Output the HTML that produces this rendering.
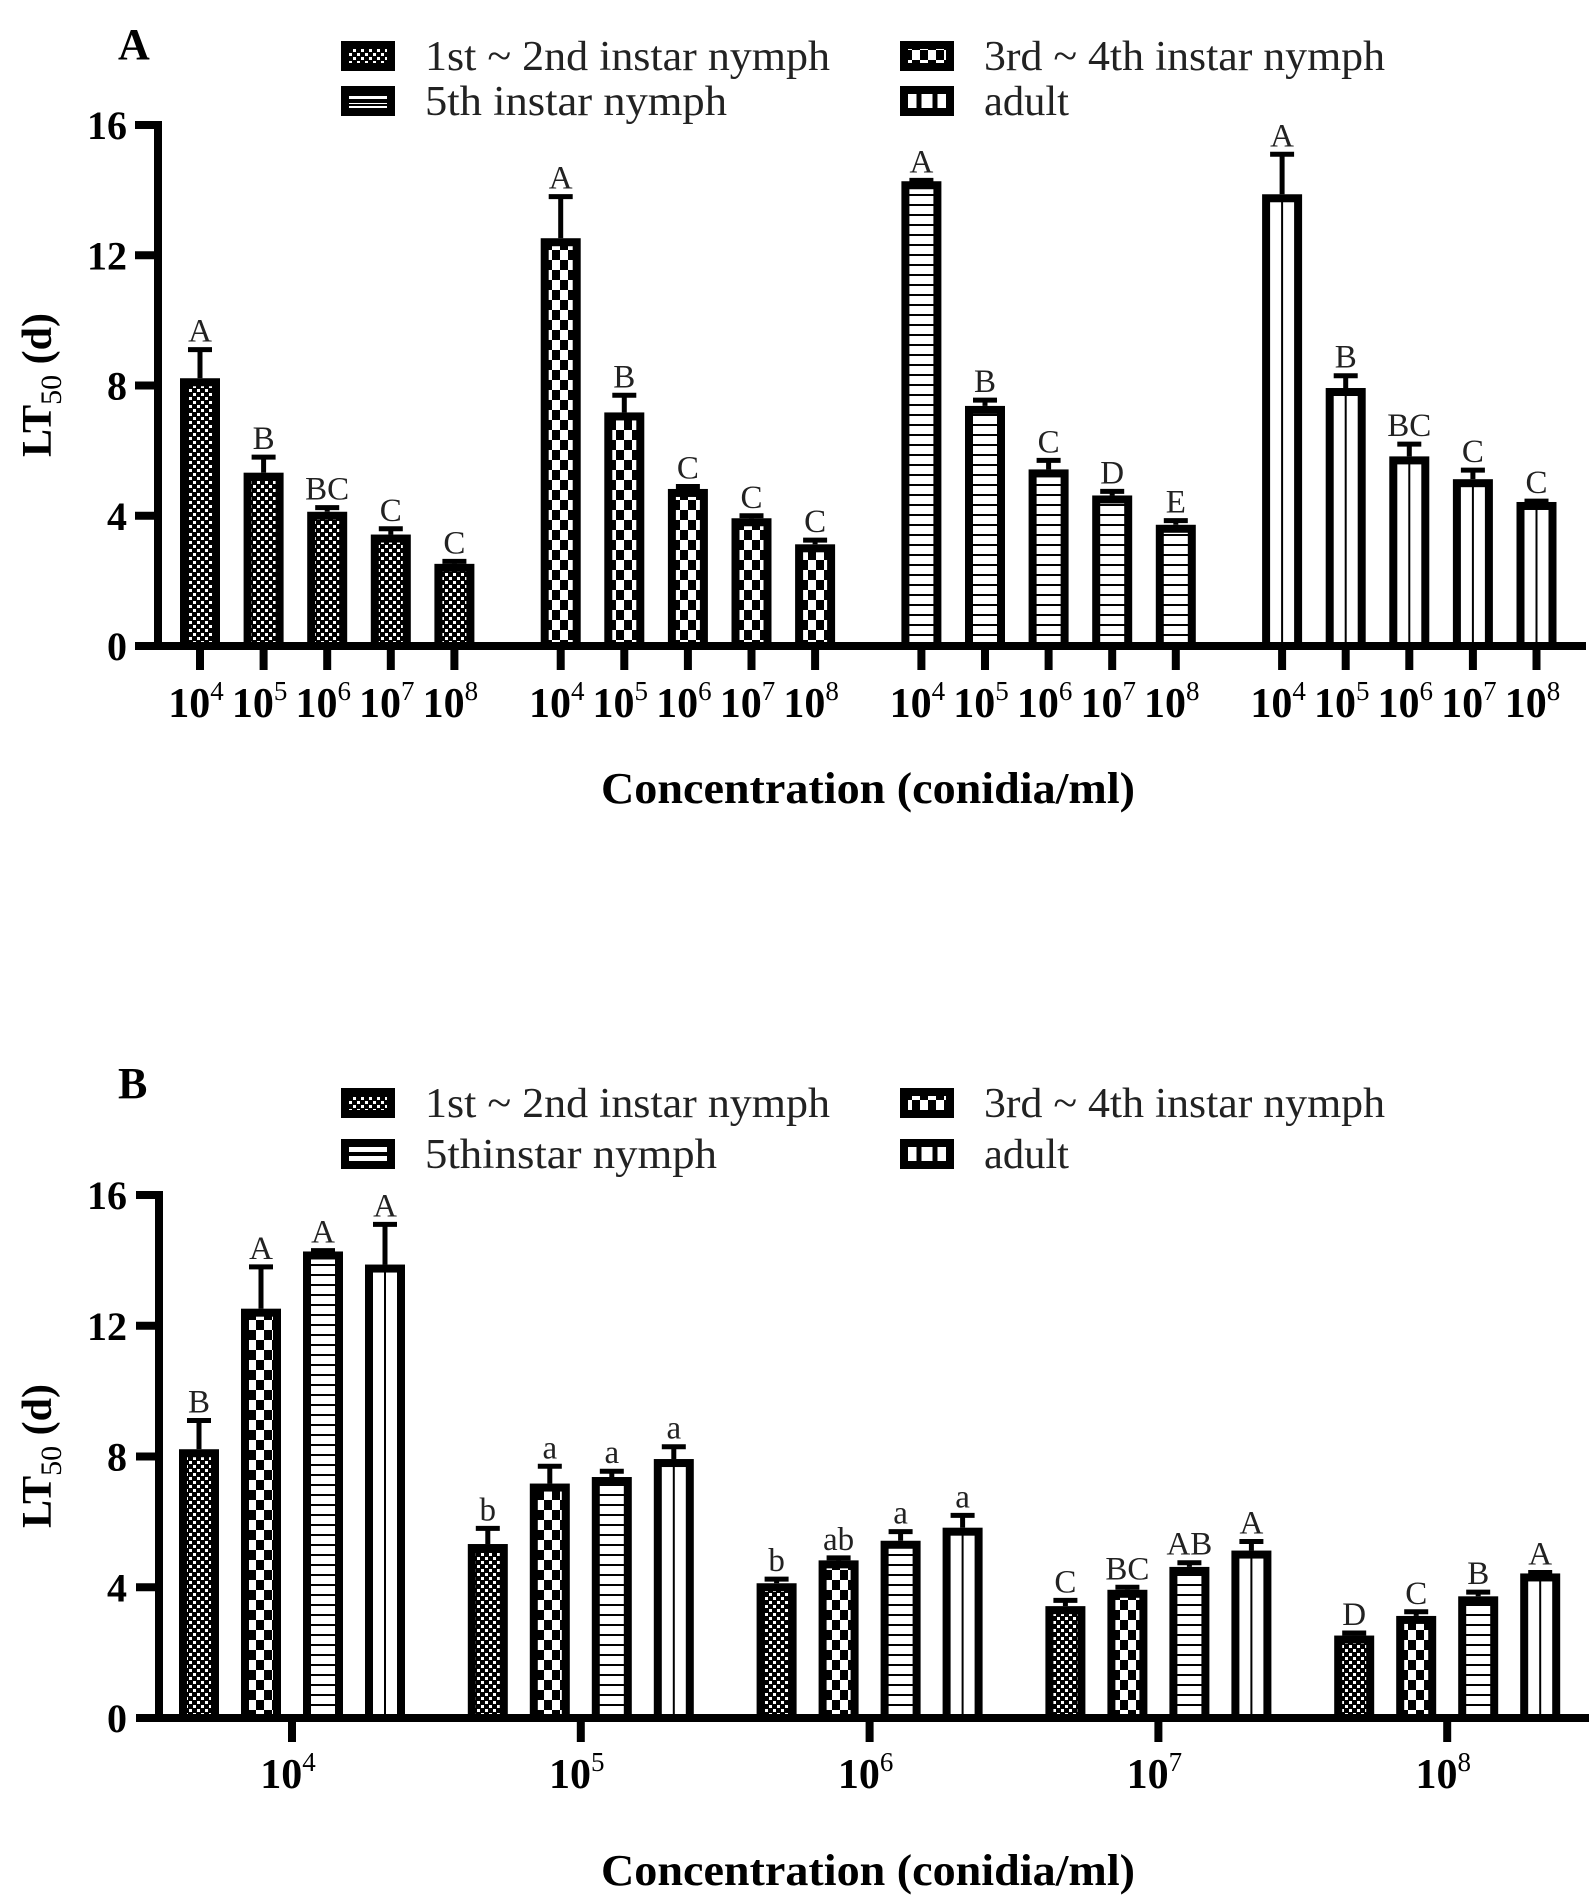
<!DOCTYPE html>
<html><head><meta charset="utf-8">
<style>
html,body{margin:0;padding:0;background:#fff;}
svg{display:block;font-family:"Liberation Serif",serif;}
</style></head>
<body>
<svg id="chart" width="1593" height="1899" viewBox="0 0 1593 1899" xmlns="http://www.w3.org/2000/svg">
<defs>
  <pattern id="p0" patternUnits="userSpaceOnUse" width="8" height="8">
    <rect width="8" height="8" fill="#000"/>
    <rect x="1" y="1" width="3" height="3" fill="#fff"/>
    <rect x="5" y="5" width="3" height="3" fill="#fff"/>
  </pattern>
  <pattern id="p1" patternUnits="userSpaceOnUse" width="16" height="20">
    <rect width="16" height="20" fill="#fff"/>
    <rect x="0" y="0" width="8" height="10" fill="#000"/>
    <rect x="8" y="10" width="8" height="10" fill="#000"/>
  </pattern>
  <pattern id="p2" patternUnits="userSpaceOnUse" width="10" height="10">
    <rect width="10" height="10" fill="#fff"/>
    <rect x="0" y="4" width="10" height="2" fill="#000"/>
  </pattern>
</defs>
<g id="root"></g>
</svg>
<script>
// ---- data ----
const stages = ["1st ~ 2nd instar nymph", "3rd ~ 4th instar nymph", "5th instar nymph", "adult"];
const stagesB = ["1st ~ 2nd instar nymph", "3rd ~ 4th instar nymph", "5thinstar nymph", "adult"];
const concentrations = ["4", "5", "6", "7", "8"];
const lt50Stage1 = [8.1, 5.2, 4.0, 3.3, 2.4];
const lt50Stage2 = [12.4, 7.05, 4.7, 3.8, 3.0];
const lt50Stage3 = [14.15, 7.25, 5.3, 4.5, 3.6];
const lt50Adult = [13.75, 7.8, 5.7, 5.0, 4.3];
const errTopStage1 = [9.1, 5.8, 4.25, 3.6, 2.6];
const errTopStage2 = [13.8, 7.7, 4.9, 4.0, 3.25];
const errTopStage3 = [14.3, 7.55, 5.7, 4.75, 3.85];
const errTopAdult = [15.1, 8.3, 6.2, 5.4, 4.45];
const lettersA1 = ["A","B","BC","C","C"];
const lettersA2 = ["A","B","C","C","C"];
const lettersA3 = ["A","B","C","D","E"];
const lettersA4 = ["A","B","BC","C","C"];
const lettersB1 = ["B","A","A","A"];
const lettersB2 = ["b","a","a","a"];
const lettersB3 = ["b","ab","a","a"];
const lettersB4 = ["C","BC","AB","A"];
const lettersB5 = ["D","C","B","A"];
const yTicks = [0, 4, 8, 12, 16];

const values = [lt50Stage1, lt50Stage2, lt50Stage3, lt50Adult];
const errs = [errTopStage1, errTopStage2, errTopStage3, errTopAdult];
const lettersA = [lettersA1, lettersA2, lettersA3, lettersA4];
const lettersB = [lettersB1, lettersB2, lettersB3, lettersB4, lettersB5];

const NS = "http://www.w3.org/2000/svg";
const root = document.getElementById("root");
function mk(tag, attrs, parent) {
  const e = document.createElementNS(NS, tag);
  for (const k in attrs) e.setAttribute(k, attrs[k]);
  (parent || root).appendChild(e);
  return e;
}
const fills = ["url(#p0)", "url(#p1)", "url(#p2)", "#fff"];

function drawBar(g, s, cx, y0, yv, yerr, letter, panel) {
  const x = cx - 16, top = yv;
  if (s === 3) {
    const r = mk("rect", {x: x, y: top, width: 32, height: y0 - top, fill: "#fff"}, g);
    
    
    const l = mk("line", {x1: cx, y1: top, x2: cx, y2: y0, stroke: "#000", "stroke-width": 2}, g);
    
    
    const o = mk("rect", {x: x, y: top, width: 32, height: y0 - top, fill: "none", stroke: "#000", "stroke-width": 8}, g);
    
    
  } else {
    const r = mk("rect", {x: x, y: top, width: 32, height: y0 - top, fill: fills[s], stroke: "#000", "stroke-width": 8}, g);
    
    
  }
  const el = mk("line", {x1: cx, y1: top - 4, x2: cx, y2: yerr, stroke: "#000", "stroke-width": 5}, g);
  
  
  const cap = mk("line", {x1: cx - 12, y1: yerr, x2: cx + 12, y2: yerr, stroke: "#000", "stroke-width": 5}, g);
  
  
  const t = mk("text", {x: cx, y: yerr - 8, "text-anchor": "middle", "font-size": 33, fill: "#222"}, g);
  t.textContent = letter;
  
  
}

function drawAxes(g, axX, yTop, y0, xEnd, yScale) {
  const ax = mk("line", {x1: axX, y1: yTop - 4, x2: axX, y2: y0 + 4, stroke: "#000", "stroke-width": 8}, g);
  
  
  const xa = mk("line", {x1: axX - 23, y1: y0, x2: xEnd, y2: y0, stroke: "#000", "stroke-width": 8}, g);
  
  
  yTicks.forEach(v => {
    const y = yScale(v);
    if (v !== 0) {
      const tk = mk("line", {x1: axX - 23, y1: y, x2: axX, y2: y, stroke: "#000", "stroke-width": 8}, g);
      
      
    }
    const t = mk("text", {x: 127, y: y + 14, "text-anchor": "end", "font-size": 40, "font-weight": "bold"}, g);
    t.textContent = v;
    
    
  });
}

function xTickLabel(g, cx, y, exp) {
  const t = mk("text", {x: cx - 4, y: y, "text-anchor": "middle", "font-size": 42, "font-weight": "bold"}, g);
  
  
  const a = document.createElementNS(NS, "tspan"); a.textContent = "10"; t.appendChild(a);
  const b = document.createElementNS(NS, "tspan");
  b.setAttribute("dy", "-17"); b.setAttribute("font-size", "27"); b.setAttribute("font-weight", "normal");
  b.textContent = exp; t.appendChild(b);
}

function legend(g, top1, top2, names, widths) {
  const boxes = [[341, top1], [900, top1], [341, top2], [900, top2]];
  [0, 1, 2, 3].forEach(i => {
    const [bx, by] = boxes[i];
    const item = mk("g", {}, g);
    
    
    mk("rect", {x: bx + 4, y: by + 4, width: 46, height: 22, fill: i === 3 ? "#fff" : fills[i], stroke: "#000", "stroke-width": 8}, item);
    if (i === 3) {
      mk("line", {x1: bx + 19, y1: by + 4, x2: bx + 19, y2: by + 26, stroke: "#000", "stroke-width": 5}, item);
      mk("line", {x1: bx + 35, y1: by + 4, x2: bx + 35, y2: by + 26, stroke: "#000", "stroke-width": 5}, item);
    }
    if (i === 2) {
      mk("rect", {x: bx + 4, y: by + 13, width: 46, height: 4, fill: "#000"}, item);
    }
    const t = mk("text", {x: bx + 84, y: by + 29, "font-size": 42, fill: "#222", textLength: widths[i], lengthAdjust: "spacingAndGlyphs"}, item);
    t.textContent = names[i];
  });
}

function titles(g, panelLetter, lx, ly, yTitleCy, xTitleY) {
  const p = mk("text", {x: lx, y: ly, "font-size": 44, "font-weight": "bold"}, g);
  p.textContent = panelLetter;
  
  
  const yt = mk("text", {x: 0, y: 0, "text-anchor": "middle", "font-size": 42, "font-weight": "bold",
    transform: "translate(51," + yTitleCy + ") rotate(-90)"}, g);
  
  
  const a = document.createElementNS(NS, "tspan"); a.textContent = "LT"; yt.appendChild(a);
  const b = document.createElementNS(NS, "tspan"); b.setAttribute("dy", "10"); b.setAttribute("font-size", "30"); b.setAttribute("font-weight", "normal"); b.textContent = "50"; yt.appendChild(b);
  const c = document.createElementNS(NS, "tspan"); c.setAttribute("dy", "-10"); c.textContent = " (d)"; yt.appendChild(c);
  const xt = mk("text", {x: 868, y: xTitleY, "text-anchor": "middle", "font-size": 44, "font-weight": "bold", textLength: 534, lengthAdjust: "spacingAndGlyphs"}, g);
  xt.textContent = "Concentration (conidia/ml)";
  
  
}

// ---- Panel A ----
(function () {
  const g = mk("g", {});
  
  
  const y0 = 646, y16 = 125;
  const yS = v => y0 - (y0 - y16) * v / 16;
  const xS = (s, c) => 200 + s * 360.7 + c * 63.6;
  values.forEach((ser, s) => ser.forEach((v, c) => {
    drawBar(g, s, xS(s, c), y0, yS(v), yS(errs[s][c]), lettersA[s][c], "a");
  }));
  drawAxes(g, 158, y16, y0, 1586, yS);
  values.forEach((ser, s) => concentrations.forEach((e, c) => {
    const cx = xS(s, c);
    const tk = mk("line", {x1: cx, y1: y0, x2: cx, y2: 670, stroke: "#000", "stroke-width": 8}, g);
    
    
    xTickLabel(g, cx, 717, e);
  }));
  legend(g, 41, 86, stages, [405, 401, 302, 85]);
  titles(g, "A", 118, 59, 385, 803);
})();

// ---- Panel B ----
(function () {
  const g = mk("g", {});
  
  
  const y0 = 1718, y16 = 1195;
  const yS = v => y0 - (y0 - y16) * v / 16;
  const gx = c => 292 + c * 288.8;
  const off = s => (s - 1.5) * 62;
  concentrations.forEach((e, c) => {
    values.forEach((ser, s) => {
      drawBar(g, s, gx(c) + off(s), y0, yS(ser[c]), yS(errs[s][c]), lettersB[c][s], "b");
    });
  });
  drawAxes(g, 159, y16, y0, 1589, yS);
  concentrations.forEach((e, c) => {
    const cx = gx(c);
    const tk = mk("line", {x1: cx, y1: y0, x2: cx, y2: 1742, stroke: "#000", "stroke-width": 8}, g);
    
    
    xTickLabel(g, cx, 1788, e);
  });
  legend(g, 1088, 1139, stagesB, [405, 401, 292, 85]);
  titles(g, "B", 118, 1098, 1456, 1885);
})();
</script>
</body></html>
